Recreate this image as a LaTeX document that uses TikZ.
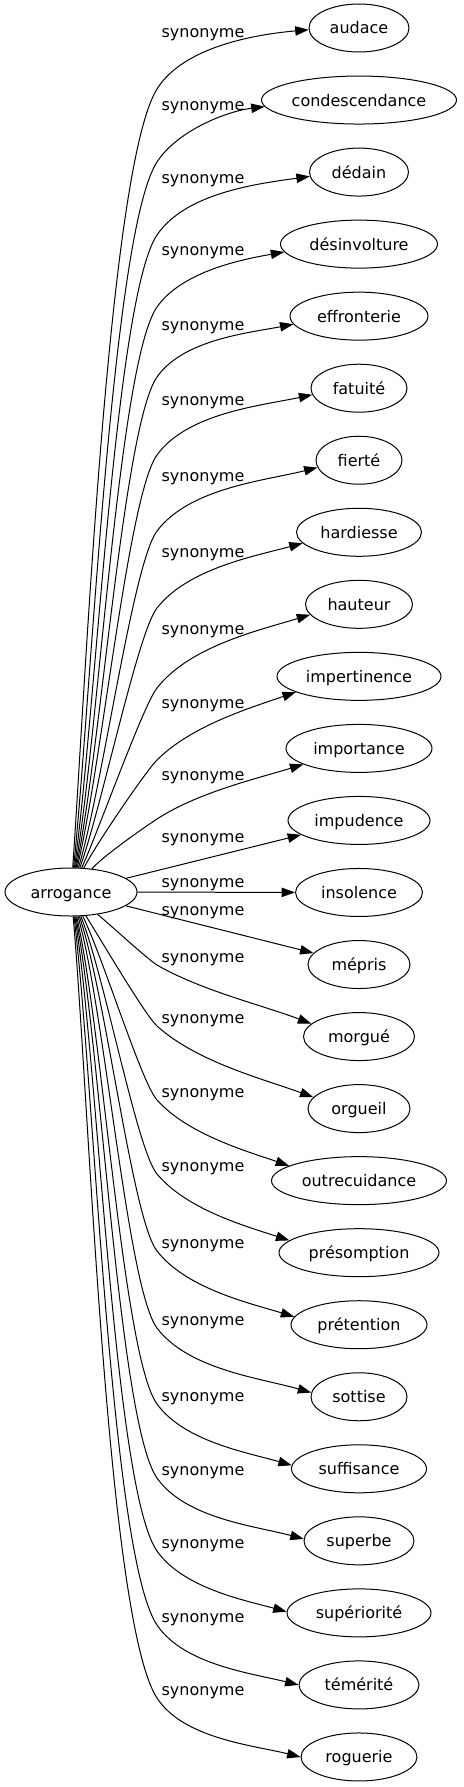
\documentclass[tikz,border=0pt]{standalone}
\usepackage{fontspec}
\setmainfont{DejaVu Sans}
\usetikzlibrary{shapes.geometric,arrows.meta}
\begin{document}
\begin{tikzpicture}[x=0.5pt,y=0.5pt,>={Triangle[length=6.7pt,width=4.7pt]},
    word/.style={draw,ellipse,line width=0.5pt,inner sep=0pt,minimum height=24pt,
      font=\fontsize{8pt}{9pt}\selectfont,text height=6pt,text depth=0pt},
    rel/.style={font=\fontsize{8pt}{9pt}\selectfont,anchor=mid},
    link/.style={->,line width=0.5pt}]
  \useasboundingbox (0,0) rectangle (463,-1787);
  \node [word,minimum width=66pt] (arr) at (71,-892) {arrogance};
  \foreach \w/\lw [count=\i from 0] in {audace/100,condescendance/195,dédain/99,
    désinvolture/157,effronterie/138,fatuité/96,fierté/86,hardiesse/125,hauteur/107,
    impertinence/164,importance/146,impudence/142,insolence/127,mépris/102,morgué/111,
    orgueil/102,outrecuidance/175,présomption/160,prétention/136,sottise/96,
    suffisance/135,superbe/110,supériorité/144,témérité/120,roguerie/116}
    \node [word,minimum width=\lw*0.5pt] (t\i) at (359,-28-72.04*\i) {\w};
  \foreach \ly [count=\i from 0] in {32,105,178,250,325,400,476,552,629,703,775,837,
    882,910,957,1018,1092,1166,1243,1320,1396,1470,1543,1617,1690}
    \node [rel] (l\i) at (203,-\ly) {synonyme};
  \foreach \i/\p/\a/\t/\b/\g [evaluate=\t as \ti using \t+180,
    evaluate=\b as \bi using \b+180] in {0/28.5/86/58/5/182,1/28.5/84/57/7/184,
    2/28.5/82/56/8/185,3/28.5/80/55/10/186,4/26/78/55/11/187,5/27.5/76/54/12/188,
    6/27.5/73/53/14/190,7/28/70/52/15/191,8/29.5/66/52/17/192,9/28.5/62/45/19/194,
    10/22/48/33/17/196}
    \draw [link] (arr) to [out=\a,in=\ti,out looseness=0.6,in looseness=0.3]
      ([xshift=-23pt,yshift=-\p pt]l\i.mid) to [out=\t,in=\bi,looseness=0.8] (t\i.\g);
  \foreach \i in {11,12,13} \draw [link] (arr) -- (t\i);
  \foreach \i/\a/\t/\b/\g [evaluate=\t as \ti using \t+180,
    evaluate=\b as \bi using 180-\b] in {14/-40/-30/21/165,15/-58/-42/20/166,
    16/-64/-48/19/168,17/-68/-50/18/170,18/-71/-52/17/173,19/-74/-53/16/175,
    20/-77/-54/16/177,21/-79/-55/15/178,22/-81/-55/15/179,23/-83/-56/14/180,
    24/-85/-57/14/180}
    \draw [link] (arr) to [out=\a,in=\ti,out looseness=0.6,in looseness=0.3]
      ([xshift=-23pt,yshift=-4pt]l\i.mid) to [out=\t,in=\bi,looseness=0.8] (t\i.\g);
\end{tikzpicture}
\end{document}
